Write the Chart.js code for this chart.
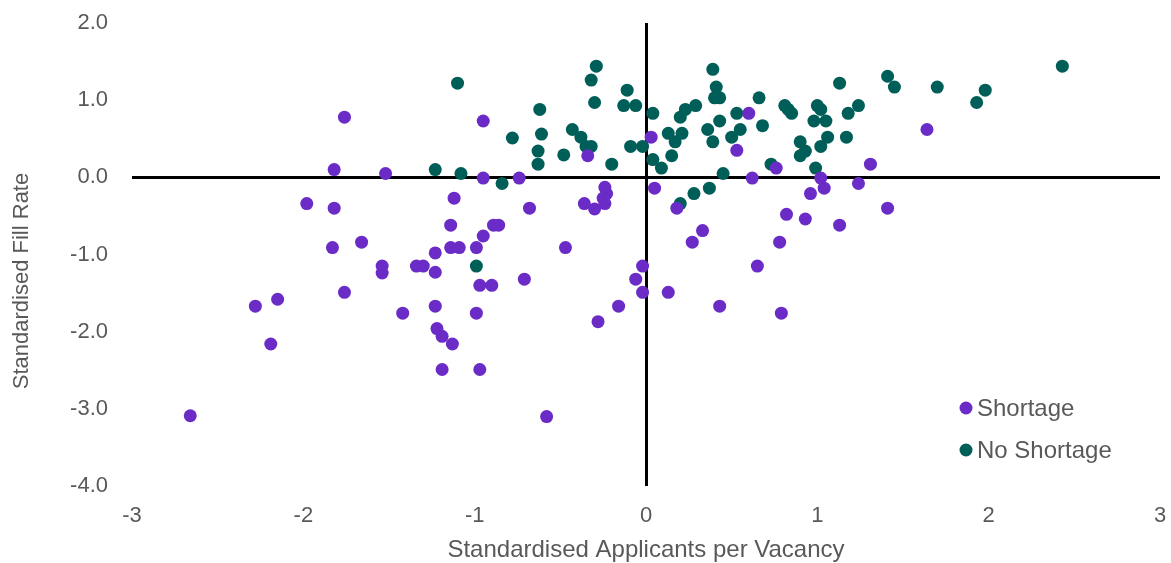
<!DOCTYPE html>
<html>
<head>
<meta charset="utf-8">
<script src="https://cdn.jsdelivr.net/npm/chart.js@4/dist/chart.umd.min.js"></script>
<style>
    html, body { margin: 0; padding: 0; background: #ffffff; }
    #wrap { width: 1171px; height: 563px; }
</style>
</head>
<body>
<div id="wrap"><canvas id="scatterChart" width="1171" height="563"></canvas></div>
<script>
// Valeurs
const xTicks = [-3, -2, -1, 0, 1, 2, 3];
const yTicks = [-4, -3, -2, -1, 0, 1, 2];

const shortageX = [-2.66, -2.28, -2.15, -2.19, -1.98, -1.82, -1.82, -1.83, -1.76, -1.76,
    -1.66, -1.54, -1.54, -1.52, -1.42, -1.34, -1.30, -1.23, -1.23, -1.23,
    -1.22, -1.19, -1.19, -1.13, -1.14, -1.14, -1.12, -1.09, -0.99, -0.97,
    -0.99, -0.97, -0.95, -0.95, -0.95, -0.90, -0.89, -0.86, -0.74, -0.68,
    -0.71, -0.58, -0.47, -0.36, -0.34, -0.30, -0.28, -0.24, -0.24, -0.23,
    -0.25, 0.03, 0.05, 0.18, -0.02, -0.06, -0.02, -0.16, 0.13, 0.27,
    0.33, 0.43, 0.65, 0.78, 0.79, 0.82, 0.93, 0.96, 1.04, 1.02,
    1.13, 1.24, 1.31, 1.41, 0.62, 0.76, 0.60, 0.53, 1.64];
const shortageY = [-3.09, -1.67, -1.58, -2.16, -0.34, 0.10, -0.40, -0.91, 0.78, -1.49,
    -0.84, -1.15, -1.24, 0.05, -1.76, -1.15, -1.15, -0.98, -1.23, -1.67,
    -1.96, -2.06, -2.49, -2.16, -0.62, -0.91, -0.27, -0.91, -0.91, -1.40,
    -1.76, -2.49, 0.73, -0.01, -0.76, -1.40, -0.62, -0.62, -0.01, -0.40,
    -1.32, -3.10, -0.91, -0.34, 0.28, -0.41, -1.87, -0.34, -0.13, -0.21,
    -0.27, 0.52, -0.14, -0.40, -1.15, -1.32, -1.49, -1.67, -1.49, -0.84,
    -0.69, -1.67, -1.15, -0.84, -1.76, -0.48, -0.54, -0.21, -0.14, -0.01,
    -0.62, -0.08, 0.17, -0.40, -0.01, 0.12, 0.83, 0.35, 0.62];

const noShortageX = [-1.10, -1.23, -1.08, -0.84, -0.78, -0.62, -0.61, -0.63, -0.63, -0.48,
    -0.43, -0.38, -0.35, -0.32, -0.29, -0.32, -0.30, -0.20, -0.11, -0.13,
    -0.06, -0.09, -0.02, 0.04, 0.04, 0.09, 0.13, 0.17, 0.21, 0.15,
    0.20, 0.23, 0.29, 0.39, 0.41, 0.40, 0.43, 0.43, 0.36, 0.39,
    0.53, 0.55, 0.50, 0.45, 0.37, 0.28, 0.20, 0.66, 0.68, 0.73,
    0.81, 0.85, 0.83, 0.90, 0.90, 0.93, 0.99, 1.00, 1.02, 0.98,
    1.05, 1.06, 1.02, 1.13, 1.18, 1.17, 1.24, 1.41, 1.45, 1.70,
    1.98, 1.93, 2.43, -0.99];
const noShortageY = [1.22, 0.10, 0.05, -0.08, 0.51, 0.88, 0.56, 0.34, 0.17, 0.29,
    0.62, 0.52, 0.40, 0.40, 1.44, 1.26, 0.97, 0.17, 1.13, 0.93,
    0.93, 0.40, 0.40, 0.83, 0.23, 0.12, 0.57, 0.46, 0.57, 0.28,
    0.78, 0.88, 0.93, 1.40, 1.17, 1.03, 1.03, 0.73, 0.62, 0.46,
    0.83, 0.62, 0.52, 0.05, -0.14, -0.21, -0.34, 1.03, 0.67, 0.17,
    0.93, 0.83, 0.88, 0.46, 0.28, 0.34, 0.12, 0.93, 0.88, 0.73,
    0.73, 0.52, 0.40, 1.22, 0.83, 0.52, 0.93, 1.31, 1.17, 1.17,
    1.13, 0.97, 1.44, -1.15];

const toPoints = (xs, ys) => xs.map((x, i) => ({ x: x, y: ys[i] }));

const textColor = '#595959';
const fontFamily = '"Liberation Sans", Arial, sans-serif';

// Légende dans la zone du graphique + titre de l'axe Y
const overlayPlugin = {
    id: 'overlay',
    afterDraw(chart) {
        const ctx = chart.ctx;
        ctx.save();
        ctx.fillStyle = textColor;
        ctx.font = '22px ' + fontFamily;
        ctx.textAlign = 'center';
        ctx.textBaseline = 'middle';
        ctx.translate(22, 281);
        ctx.rotate(-Math.PI / 2);
        ctx.fillText('Standardised Fill Rate', 0, 0);
        ctx.restore();

        ctx.save();
        ctx.font = '24px ' + fontFamily;
        ctx.textBaseline = 'middle';
        chart.data.datasets.forEach((ds, i) => {
            const y = 408 + i * 42;
            ctx.fillStyle = ds.backgroundColor;
            ctx.beginPath();
            ctx.arc(966, y, 6.5, 0, Math.PI * 2);
            ctx.fill();
            ctx.fillStyle = textColor;
            ctx.fillText(ds.label, 977, y + 1);
        });
        ctx.restore();
    }
};

const zeroLine = ctx => ctx.tick && ctx.tick.value === 0 ? '#000000' : 'rgba(0,0,0,0)';

new Chart(document.getElementById('scatterChart').getContext('2d'), {
    type: 'scatter',
    data: {
        datasets: [
            {
                label: 'Shortage',
                data: toPoints(shortageX, shortageY),
                backgroundColor: '#6A2BC7',
                borderWidth: 0,
                pointRadius: 6.5,
                pointHoverRadius: 6.5
            },
            {
                label: 'No Shortage',
                data: toPoints(noShortageX, noShortageY),
                backgroundColor: '#005E59',
                borderWidth: 0,
                pointRadius: 6.5,
                pointHoverRadius: 6.5
            }
        ]
    },
    options: {
        responsive: false,
        animation: false,
        layout: { padding: 0 },
        plugins: {
            legend: { display: false },
            tooltip: { enabled: false }
        },
        scales: {
            x: {
                type: 'linear',
                min: -3,
                max: 3,
                afterBuildTicks: scale => { scale.ticks = xTicks.map(v => ({ value: v })); },
                afterFit: scale => {
                    scale.height = 77;
                    scale.paddingLeft = 0;
                    scale.paddingRight = 11;
                },
                ticks: {
                    color: textColor,
                    font: { family: fontFamily, size: 22 },
                    padding: 17,
                    maxRotation: 0
                },
                grid: { color: zeroLine, lineWidth: 3, drawTicks: false },
                border: { display: false },
                title: {
                    display: true,
                    text: 'Standardised Applicants per Vacancy',
                    color: textColor,
                    font: { family: fontFamily, size: 24, lineHeight: 1 },
                    padding: { top: 0, bottom: 1 }
                }
            },
            y: {
                type: 'linear',
                min: -4,
                max: 2,
                afterBuildTicks: scale => { scale.ticks = yTicks.map(v => ({ value: v })); },
                afterFit: scale => {
                    scale.width = 132;
                    scale.paddingTop = 23;
                    scale.paddingBottom = 0;
                },
                ticks: {
                    color: textColor,
                    font: { family: fontFamily, size: 22 },
                    padding: 24,
                    callback: v => Number(v).toFixed(1)
                },
                grid: { color: zeroLine, lineWidth: 3, drawTicks: false },
                border: { display: false }
            }
        }
    },
    plugins: [overlayPlugin]
});
</script>
</body>
</html>
